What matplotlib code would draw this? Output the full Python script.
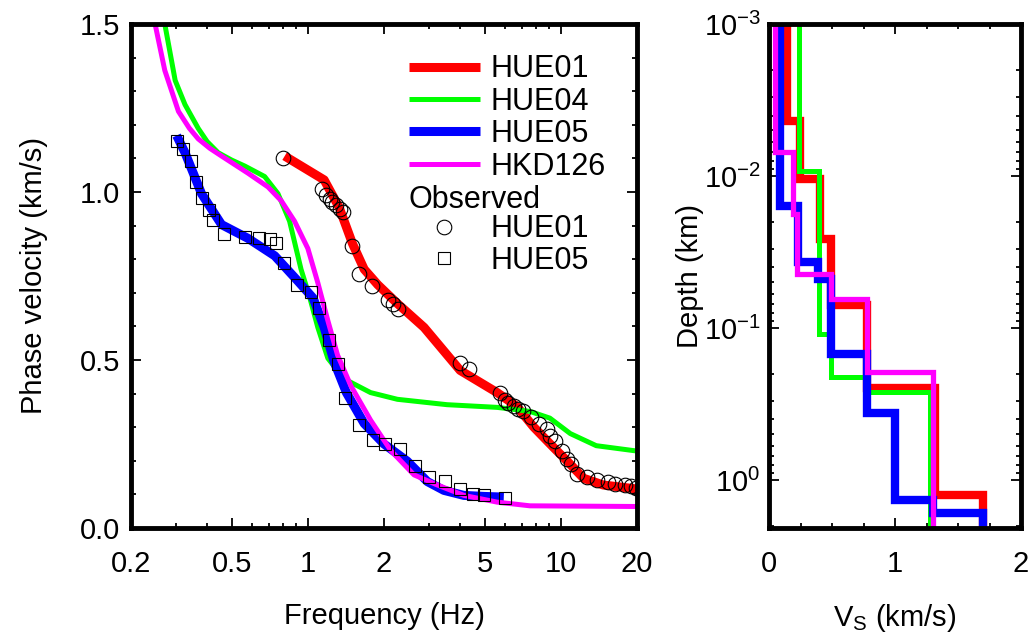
import numpy as np
import matplotlib
matplotlib.use('Agg')
import matplotlib.pyplot as plt
from matplotlib.ticker import FixedLocator, FixedFormatter, MultipleLocator, LogLocator

plt.rcParams['font.family'] = ['Liberation Sans', 'DejaVu Sans']
plt.rcParams['mathtext.fontset'] = 'custom'
plt.rcParams['mathtext.rm'] = 'Liberation Sans'
plt.rcParams['mathtext.it'] = 'Liberation Sans:italic'

# ---- dispersion curves (frequency Hz, phase velocity km/s) ----
hue01_f = [0.81, 1.16, 1.33, 1.50, 1.67, 1.89, 2.26, 2.88, 4.0, 5.6, 6.7, 7.8, 9.35, 10.6, 12.3, 14.7, 20.0]
hue01_v = [1.107, 1.036, 0.954, 0.847, 0.770, 0.724, 0.668, 0.597, 0.469, 0.403, 0.362, 0.301, 0.240, 0.199, 0.148, 0.128, 0.116]

hue04_f = [0.272, 0.299, 0.327, 0.369, 0.40, 0.442, 0.50, 0.564, 0.675, 0.762, 0.847, 0.94, 1.015, 1.095, 1.2,
           1.39, 1.77, 2.26, 3.55, 5.6, 7.55, 9.05, 10.9, 13.8, 20.0]
hue04_v = [1.5, 1.332, 1.26, 1.189, 1.15, 1.117, 1.095, 1.077, 1.046, 0.995, 0.913, 0.770, 0.689, 0.597, 0.505,
           0.444, 0.403, 0.383, 0.367, 0.359, 0.347, 0.327, 0.281, 0.245, 0.229]

hue05_f = [0.303, 0.327, 0.38, 0.456, 0.58, 0.74, 0.913, 1.05, 1.16, 1.27, 1.42, 1.67, 2.0, 2.47, 2.97,
           3.45, 4.14, 4.96, 5.95]
hue05_v = [1.168, 1.117, 0.995, 0.903, 0.862, 0.81, 0.735, 0.684, 0.597, 0.495, 0.403, 0.311, 0.25, 0.199,
           0.138, 0.112, 0.097, 0.094, 0.092]

hkd126_f = [0.249, 0.272, 0.308, 0.34, 0.369, 0.41, 0.456, 0.58, 0.696, 0.785, 0.886, 1.0, 1.095, 1.2, 1.31,
            1.48, 1.77, 2.13, 2.63, 3.25, 4.14, 5.6, 7.55, 20.0]
hkd126_v = [1.5, 1.362, 1.24, 1.19, 1.158, 1.13, 1.107, 1.056, 1.015, 0.974, 0.913, 0.832, 0.730, 0.617, 0.515,
            0.423, 0.321, 0.230, 0.158, 0.128, 0.097, 0.077, 0.066, 0.064]

# observed
obs01_f = [0.80, 1.14, 1.18, 1.22, 1.25, 1.29, 1.34, 1.38, 1.49, 1.59, 1.79, 2.08, 2.18, 2.27, 3.98, 4.32,
           5.74, 6.0, 6.2, 6.5, 6.8, 7.1, 7.6, 8.2, 8.8, 9.1, 9.5, 10.1, 10.6, 11.0, 11.6, 12.7, 13.9, 15.3,
           16.4, 18.0, 18.9, 19.8]
obs01_v = [1.10, 1.008, 0.99, 0.98, 0.97, 0.96, 0.95, 0.94, 0.84, 0.757, 0.72, 0.68, 0.667, 0.653, 0.492,
           0.473, 0.402, 0.382, 0.372, 0.363, 0.355, 0.348, 0.33, 0.31, 0.294, 0.274, 0.26, 0.23, 0.206, 0.19,
           0.162, 0.152, 0.142, 0.137, 0.132, 0.127, 0.124, 0.12]

obs05_f = [0.303, 0.322, 0.345, 0.363, 0.383, 0.406, 0.423, 0.465, 0.564, 0.641, 0.707, 0.746, 0.804, 0.906,
           1.03, 1.11, 1.21, 1.31, 1.40, 1.60, 1.81, 2.01, 2.32, 2.64, 3.00, 3.47, 4.00, 4.49, 4.99, 6.0]
obs05_v = [1.153, 1.128, 1.092, 1.029, 0.982, 0.946, 0.918, 0.876, 0.865, 0.862, 0.859, 0.849, 0.789, 0.723,
           0.702, 0.655, 0.561, 0.487, 0.386, 0.308, 0.263, 0.25, 0.235, 0.186, 0.153, 0.141, 0.117, 0.10,
           0.097, 0.09]

# ---- velocity profiles: layer Vs (km/s) and layer bottom depths (km) ----
hue01_vs = [0.14, 0.245, 0.404, 0.496, 0.78, 1.314, 1.697]
hue01_z = [0.00438, 0.0104, 0.026, 0.0711, 0.25, 1.25]
hue04_vs = [0.238, 0.398, 0.496, 0.774, 1.275]
hue04_z = [0.00926, 0.109, 0.21, 0.263]
hue05_vs = [0.09, 0.232, 0.388, 0.496, 0.774, 0.998, 1.301, 1.697]
hue05_z = [0.0157, 0.0366, 0.0475, 0.1475, 0.365, 1.35, 1.65]
hkd126_vs = [0.05, 0.188, 0.224, 0.496, 0.774, 1.301]
hkd126_z = [0.00695, 0.0178, 0.044, 0.0649, 0.196]

names = ['HUE01', 'HUE04', 'HUE05', 'HKD126']
colors = ['#ff0000', '#00ff00', '#0000ff', '#ff00ff']
widths = [6.5, 3.6, 6.5, 3.6]
pwidths = [6.0, 3.6, 6.0, 3.8]


def profile(vs, z, ztop=1e-4, zbot=10.0):
    zz = [ztop] + [d for d in z for _ in (0, 1)] + [zbot]
    vv = [v for v in vs for _ in (0, 1)]
    return vv, zz


def style_axes(ax):
    for s in ax.spines.values():
        s.set_linewidth(3.5)
    ax.tick_params(which='both', direction='in', top=True, right=True, width=1.3, labelsize=21)
    ax.tick_params(which='major', length=7)
    ax.tick_params(which='minor', length=3.5)


fig = plt.figure(figsize=(10.28, 6.32), dpi=100)
ax1 = fig.add_axes([131 / 1028, 1 - 528 / 632, 506 / 1028, 504 / 632])
ax2 = fig.add_axes([769 / 1028, 1 - 528 / 632, 252 / 1028, 504 / 632])

curves = [(hue01_f, hue01_v), (hue04_f, hue04_v), (hue05_f, hue05_v), (hkd126_f, hkd126_v)]
handles = []
for (f, v), name, c, lw in zip(curves, names, colors, widths):
    h, = ax1.plot(f, v, color=c, lw=lw, solid_capstyle='butt', solid_joinstyle='round', label=name)
    handles.append(h)
o1, = ax1.plot(obs01_f, obs01_v, 'o', ms=10.5, mfc='none', mec='k', mew=0.8, label='HUE01')
o2, = ax1.plot(obs05_f, obs05_v, 's', ms=8, mfc='none', mec='k', mew=0.8, label='HUE05')

ax1.set_xscale('log')
ax1.set_xlim(0.2, 20)
ax1.set_ylim(0, 1.5)
ax1.xaxis.set_major_locator(FixedLocator([0.2, 0.5, 1, 2, 5, 10, 20]))
ax1.xaxis.set_major_formatter(FixedFormatter(['0.2', '0.5', '1', '2', '5', '10', '20']))
ax1.xaxis.set_minor_locator(FixedLocator([0.3, 0.4, 0.6, 0.7, 0.8, 0.9, 3, 4, 6, 7, 8, 9]))
ax1.xaxis.set_minor_formatter(FixedFormatter([]))
ax1.yaxis.set_major_locator(MultipleLocator(0.5))
ax1.yaxis.set_minor_locator(MultipleLocator(0.1))
ax1.yaxis.set_major_formatter(plt.FuncFormatter(lambda y, p: f'{y:.1f}'))
style_axes(ax1)
ax1.tick_params(axis='x', pad=16)
ax1.tick_params(axis='y', pad=8)
ax1.set_xlabel('Frequency (Hz)', fontsize=21, labelpad=17)
ax1.set_ylabel('Phase velocity (km/s)', fontsize=21, labelpad=23)

leg1 = ax1.legend(handles=handles, loc='upper left', bbox_to_anchor=(0.549, 0.940), frameon=False,
                  fontsize=22, handlelength=2.32, handletextpad=0.36, labelspacing=0.08,
                  borderpad=0, borderaxespad=0)
ax1.add_artist(leg1)
ax1.text(0.549, 0.651, 'Observed', transform=ax1.transAxes, fontsize=22, ha='left', va='center')
ax1.legend(handles=[o1, o2], loc='upper left', bbox_to_anchor=(0.549, 0.6226), frameon=False,
           fontsize=22, handlelength=2.32, handletextpad=0.36, labelspacing=0.06,
           borderpad=0, borderaxespad=0, numpoints=1)

profiles = [(hue01_vs, hue01_z), (hue04_vs, hue04_z), (hue05_vs, hue05_z), (hkd126_vs, hkd126_z)]
for (vs, z), c, lw in zip(profiles, colors, pwidths):
    vv, zz = profile(vs, z)
    ax2.plot(vv, zz, color=c, lw=lw, solid_joinstyle='miter')

ax2.set_yscale('log')
ax2.set_ylim(2.07, 1e-3)
ax2.set_xlim(0, 2)
ax2.xaxis.set_major_locator(FixedLocator([0, 1, 2]))
ax2.xaxis.set_major_formatter(FixedFormatter(['0', '1', '2']))
ax2.xaxis.set_minor_locator(MultipleLocator(0.25))
ax2.yaxis.set_major_locator(LogLocator(base=10))
ax2.yaxis.set_minor_locator(LogLocator(base=10, subs=np.arange(2, 10)))
style_axes(ax2)
ax2.tick_params(axis='x', pad=16)
ax2.tick_params(axis='y', pad=6)
ax2.set_xlabel('V$_\\mathrm{S}$ (km/s)', fontsize=21, labelpad=17)
ax2.set_ylabel('Depth (km)', fontsize=21, labelpad=0)

fig.savefig('out.png', dpi=100)
